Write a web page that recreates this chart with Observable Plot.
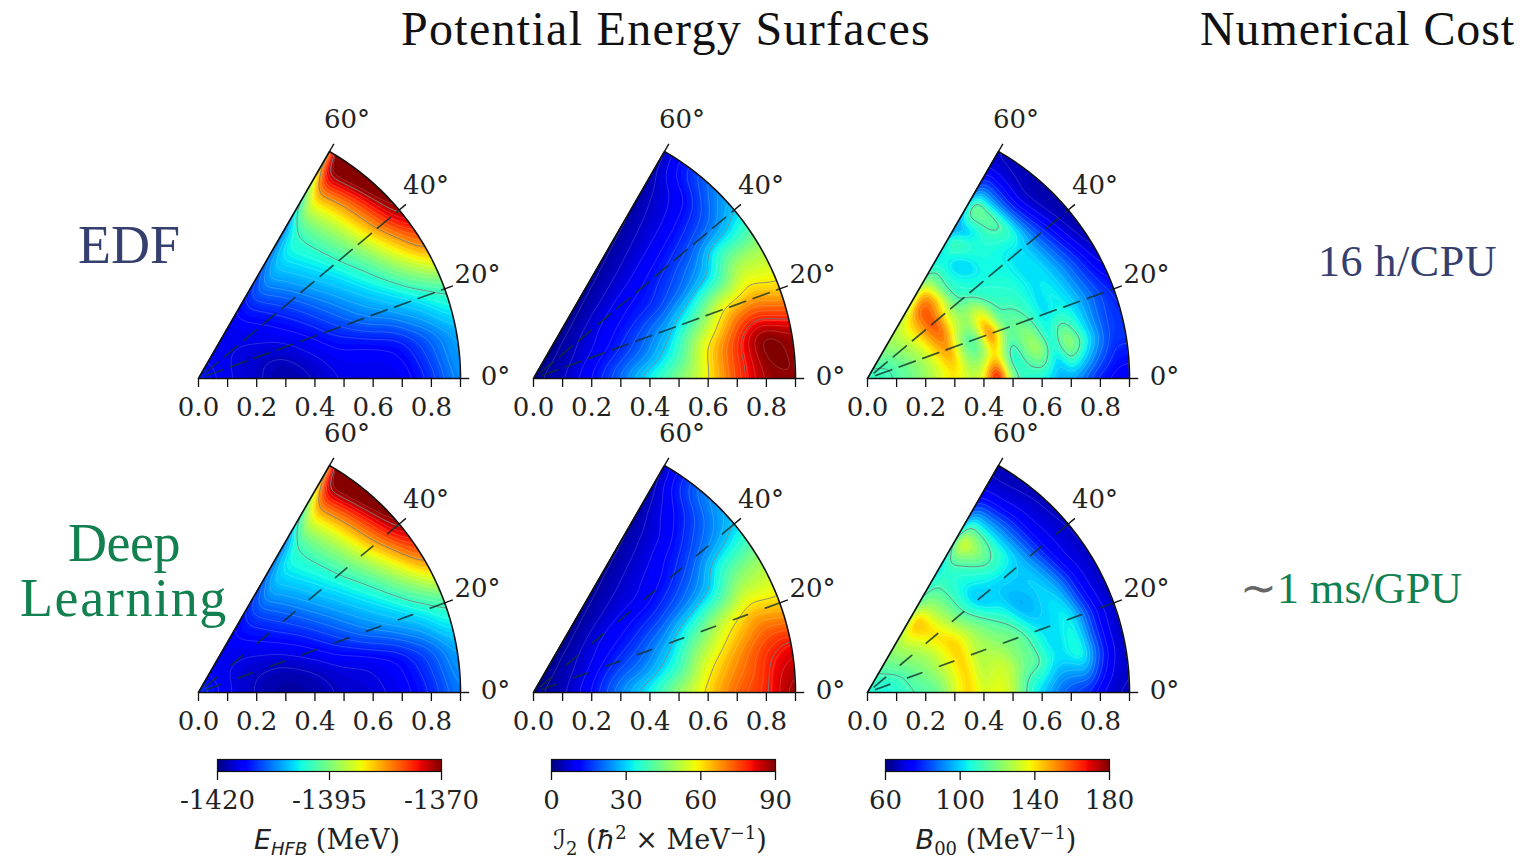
<!DOCTYPE html>
<html><head><meta charset="utf-8">
<script src="https://cdn.jsdelivr.net/npm/d3@7"></script>
<script src="https://cdn.jsdelivr.net/npm/@observablehq/plot@0.6"></script>
<style>
html,body{margin:0;padding:0;background:#fff}
#page{position:relative;width:1520px;height:856px}
.chart{position:absolute}
.chart svg{display:block;overflow:visible;max-width:none}
.t{position:absolute;white-space:nowrap;transform:translateY(-50%);line-height:1}
.m{position:absolute;white-space:nowrap;transform:translate(-50%,-50%);font:27px/1 "DejaVu Serif";color:#222}
.m i{font-family:"DejaVu Sans";font-style:italic}
.m sub,.m sup{font-size:18px;line-height:0}
</style></head><body><div id="page"></div>
<script>
const betaCoarse=[0,.1,.2,.3,.4,.5,.6,.7,.8,.9];
const betaFine=[0,.05,.1,.15,.2,.25,.3,.35,.4,.45,.5,.55,.6,.65,.7,.75,.8,.85,.9];
const gammas=[0,10,20,30,40,50,60];
const xTicks=[0,.1,.2,.3,.4,.5,.6,.7,.8,.9];
const xLabels=[0,.2,.4,.6,.8];
const angleTicks=[0,20,40,60];

const energyEDF=[
[-1411,-1415,-1416.5,-1418,-1417,-1415,-1415,-1415,-1411.5,-1406],
[-1411,-1415,-1416.5,-1417.5,-1415.5,-1414,-1414,-1413,-1409,-1405],
[-1411,-1415,-1416.5,-1416,-1414,-1411,-1407.5,-1405,-1402,-1398],
[-1411,-1415,-1415.5,-1414.5,-1412,-1408,-1404,-1399.5,-1391,-1381],
[-1411,-1415,-1415,-1413.5,-1410,-1405,-1401,-1394,-1382,-1370],
[-1411,-1415,-1415,-1412.5,-1407.5,-1403,-1399,-1391,-1379,-1364],
[-1411,-1415,-1414.5,-1411,-1405,-1402,-1400,-1389,-1375,-1364]];
const energyDL=[
[-1410,-1415,-1417,-1418.5,-1418,-1416.5,-1416,-1414.5,-1412,-1407],
[-1410,-1415,-1417,-1418,-1417,-1415.5,-1415,-1413.5,-1410,-1405],
[-1410,-1415,-1416.5,-1416.5,-1414.5,-1411.5,-1408,-1405,-1402,-1398],
[-1410,-1415,-1416,-1414.5,-1412,-1408,-1404,-1400,-1392,-1381],
[-1410,-1415,-1415,-1413,-1409.5,-1405,-1401,-1394,-1382,-1370],
[-1410,-1415,-1414.5,-1412,-1407.5,-1403,-1399,-1391,-1378,-1364],
[-1410,-1415,-1414,-1411,-1405,-1402,-1400,-1389,-1375,-1364]];
const inertiaEDF=[
[2,5.5,12,21.5,35,47,59.5,76.5,88,90],
[2,5.5,11,18,24,36,60,77.5,93,88],
[2,4.5,9,13.5,20,28,42,62,68,62],
[2,3.5,7,11,14,16,22,30,50,50],
[2,3.5,6.5,9,11,12.5,15,18,22,30],
[2,2.5,3.5,5,6,7,8,9,11,20],
[1,1,1.5,2,2.5,3,3.5,4,5,7]];
const inertiaDL=[
[2,5.5,12,24.5,35,49.5,63,74,79,90],
[2,4.5,11,20,25,36,56,68,77.5,83],
[2,4.5,9,15.5,20,28,42,56,66,62],
[2,3.5,7,11,14,17,22,29,46,50],
[2,3.5,6.5,9,10,10,13,18,24,30],
[2,2.5,3.5,5,6,7,8,9.5,14,23.5],
[1,1,1.5,2,2.5,3,3.5,4,5,7]];
const massEDF=[
[110,110,114,118,125,134,142,130,134,188,118,108,106,96,96,86,77,74,73],
[110,110,114,118,125,134,149,122,120,150,100,120,132,100,132,112,94,82,82],
[110,110,114,120,127,142,156,114,110,170,114,120,112,100,106,102,92,84,78],
[110,110,115,122,130,146,162,130,122,142,110,110,108,102,104,96,86,76,67],
[110,112,116,124,132,150,166,134,113,108,108,106,106,102,102,90,78,68,64],
[110,113,118,125,134,146,166,156,114,106,98,106,108,112,118,86,72,66,66],
[110,114,120,126,132,134,146,154,126,110,108,118,90,114,126,96,80,70,67]];
const massDL=[
[106,106,108,112,113,116,134,146,132,139,132,110,100,90,84,80,72,68,67],
[106,106,108,114,118,122,134,146,127,134,132,118,116,103,103,110,86,73,68],
[106,106,109,114,120,127,137,146,127,127,122,120,108,101,103,106,84,73,68],
[106,108,110,116,122,127,139,146,130,120,113,106,94,98,102,94,78,71,68],
[106,108,113,120,125,132,142,134,120,108,96,101,101,100,98,84,73,71,67],
[106,110,115,122,127,139,146,130,120,110,106,110,120,114,98,84,73,70,66],
[106,110,115,122,132,146,154,127,118,113,110,122,146,126,102,82,72,68,66]];

const energyTicks=[-1420,-1395,-1370];
const inertiaTicks=[0,30,60,90];
const massTicks=[60,100,140,180];

const page=document.getElementById("page");
const rad=d=>d*Math.PI/180;
const ramp=(xs,ys)=>d3.scaleLinear(xs,ys).clamp(true);
const jetR=ramp([0,.35,.66,.89,1],[0,0,1,1,.5]);
const jetG=ramp([0,.125,.375,.64,.91,1],[0,0,1,1,0,0]);
const jetB=ramp([0,.11,.34,.65,1],[.5,1,1,0,0]);
const jet=t=>`rgb(${Math.round(jetR(t)*255)},${Math.round(jetG(t)*255)},${Math.round(jetB(t)*255)})`;
const SERIF='"DejaVu Serif"', INK="#222", FS=26;
const R=262, BMAX=.9, YMAX=.9*Math.sin(rad(60));
const mT=52,mB=52,mL=34,mR=64;

function samples(rows,betas){
  const out=[];
  rows.forEach((row,i)=>row.forEach((v,j)=>{
    if(betas[j]===0&&i>0) return;
    out.push({x:betas[j]*Math.cos(rad(gammas[i])),y:betas[j]*Math.sin(rad(gammas[i])),v});
  }));
  return out;
}
const polar=(b,g)=>({x:b*Math.cos(rad(g)),y:b*Math.sin(rad(g))});
const outline=[{x:0,y:0},...d3.range(60,-1,-1).map(g=>polar(BMAX,g))];

function panel(rows,betas,domain,step,thinStep,heavy,ox,oy,dash,blur){
  const data=samples(rows,betas);
  const H=Math.round(R*Math.sin(rad(60)))+mT+mB;
  const base={x:"x",y:"y",value:"v",interpolate:"barycentric",pixelSize:1,blur,clip:true};
  const plot=Plot.plot({
    width:R+mL+mR,height:H,marginLeft:mL,marginRight:mR,marginTop:mT,marginBottom:mB,
    x:{domain:[0,BMAX],axis:null},y:{domain:[0,YMAX],axis:null},
    color:{type:"linear",domain,interpolate:jet,clamp:true},
    style:{background:"transparent",overflow:"visible"},
    marks:[
      Plot.contour(data,{...base,fill:"value",stroke:"none",thresholds:d3.range(domain[0],domain[1]+1e-6,step)}),
      Plot.contour(data,{...base,fill:"none",stroke:"#fff",strokeOpacity:.28,strokeWidth:.6,thresholds:d3.range(domain[0],domain[1]+1e-6,thinStep)}),
      Plot.contour(data,{...base,fill:"none",stroke:"#6f7f7f",strokeOpacity:.8,strokeWidth:1,thresholds:heavy}),
      Plot.areaY(outline,{x:"x",y1:"y",y2:()=>YMAX,fill:"#fff"}),
      ...[20,40].map(g=>Plot.line([polar(.03,g),polar(BMAX,g)],{x:"x",y:"y",stroke:"#12302c",strokeOpacity:.8,strokeWidth:1.7,strokeDasharray:dash})),
      Plot.line([...outline,outline[0]],{x:"x",y:"y",stroke:"#111",strokeWidth:1.6}),
      Plot.link(angleTicks,{x1:g=>polar(BMAX,g).x,y1:g=>polar(BMAX,g).y,x2:g=>polar(BMAX+.03,g).x,y2:g=>polar(BMAX+.03,g).y,stroke:"#111",strokeWidth:1.4}),
      Plot.text(angleTicks,{x:g=>polar(1.02,g).x,y:g=>polar(1.02,g).y,text:g=>g+"°",fontFamily:SERIF,fontSize:FS,fill:INK,dy:-2}),
      Plot.axisX({ticks:xTicks,label:null,tickSize:9,tickPadding:10,strokeWidth:1.3,stroke:"#111",fontFamily:SERIF,fontSize:FS,fill:INK,
        tickFormat:d=>xLabels.includes(d)?d.toFixed(1):""})
    ]
  });
  const d=document.createElement("div");d.className="chart";
  d.style.left=(ox-mL)+"px";d.style.top=(oy-(H-mB))+"px";d.appendChild(plot);page.appendChild(d);
}

const DASH1="17,8",DASH2="15,19";
panel(energyEDF,betaCoarse,[-1420,-1370],.7,1.6,[-1399,-1382,-1372],198,378,DASH1,7);
panel(inertiaEDF,betaCoarse,[0,90],1.2,3,[30,60,80],532.5,378,DASH1,7);
panel(massEDF,betaFine,[60,180],1.6,4,[113],867,378,DASH1,5);
panel(energyDL,betaCoarse,[-1420,-1370],.7,1.6,[-1399,-1382,-1372],198,692,DASH2,7);
panel(inertiaDL,betaCoarse,[0,90],1.2,3,[30,60,80],532.5,692,DASH2,7);
panel(massDL,betaFine,[60,180],1.6,4,[113],867,692,DASH2,5);

function colorbar(domain,ticks,left){
  const W=224,mx=44;
  const dv=(domain[1]-domain[0])/256;
  const levels=d3.range(0,256).map(i=>domain[0]+dv*i);
  const plot=Plot.plot({
    width:W+2*mx,height:60,marginLeft:mx,marginRight:mx,marginTop:2,marginBottom:46,
    x:{domain,axis:null},y:{domain:[0,1],axis:null},
    color:{type:"linear",domain,interpolate:jet},
    style:{background:"transparent",overflow:"visible"},
    marks:[
      Plot.rect(levels,{x1:d=>d,x2:d=>Math.min(d+dv*4,domain[1]),y1:0,y2:1,fill:d=>d}),
      Plot.frame({stroke:"#111",strokeWidth:1.2}),
      Plot.axisX({ticks,label:null,tickSize:9,tickPadding:10,strokeWidth:1.3,stroke:"#111",fontFamily:SERIF,fontSize:FS,fill:INK,tickFormat:d=>String(d)})
    ]
  });
  const d=document.createElement("div");d.className="chart";
  d.style.left=(left-mx)+"px";d.style.top="757px";d.appendChild(plot);page.appendChild(d);
}
colorbar([-1420,-1370],energyTicks,217);
colorbar([0,90],inertiaTicks,551);
colorbar([60,180],massTicks,885);

function title(text,x0,x1,yc,size,color){
  const e=document.createElement("div");e.className="t";e.textContent=text;
  e.style.cssText+=`left:${x0}px;top:${yc}px;font:${size}px/1 "Liberation Serif";color:${color}`;
  page.appendChild(e);
  const w=e.getBoundingClientRect().width;
  e.style.letterSpacing=((x1-x0-w)/text.length)+"px";
}
title("Potential Energy Surfaces",401,931,29,48,"#111");
title("Numerical Cost",1200,1515,29,48,"#111");
title("EDF",78,180,245,54,"#35406f");
title("Deep",68,180,543,54,"#12804f");
title("Learning",20,228,598,54,"#12804f");
title("16 h/CPU",1318,1497,262,44,"#35406f");
title("1 ms/GPU",1277,1462,589,44,"#12804f");
title("∼",1240,1270,589,44,"#666");

function mathLabel(html,x,y){
  const e=document.createElement("div");e.className="m";e.innerHTML=html;
  e.style.left=x+"px";e.style.top=y+"px";page.appendChild(e);
}
mathLabel('<i>E<sub>HFB</sub></i> (MeV)',327,839);
mathLabel('<i>ℐ</i><sub>2</sub> (<i>ħ</i><sup>2</sup> × MeV<sup>−1</sup>)',660,839);
mathLabel('<i>B</i><sub>00</sub> (MeV<sup>−1</sup>)',996,839);
</script></body></html>
